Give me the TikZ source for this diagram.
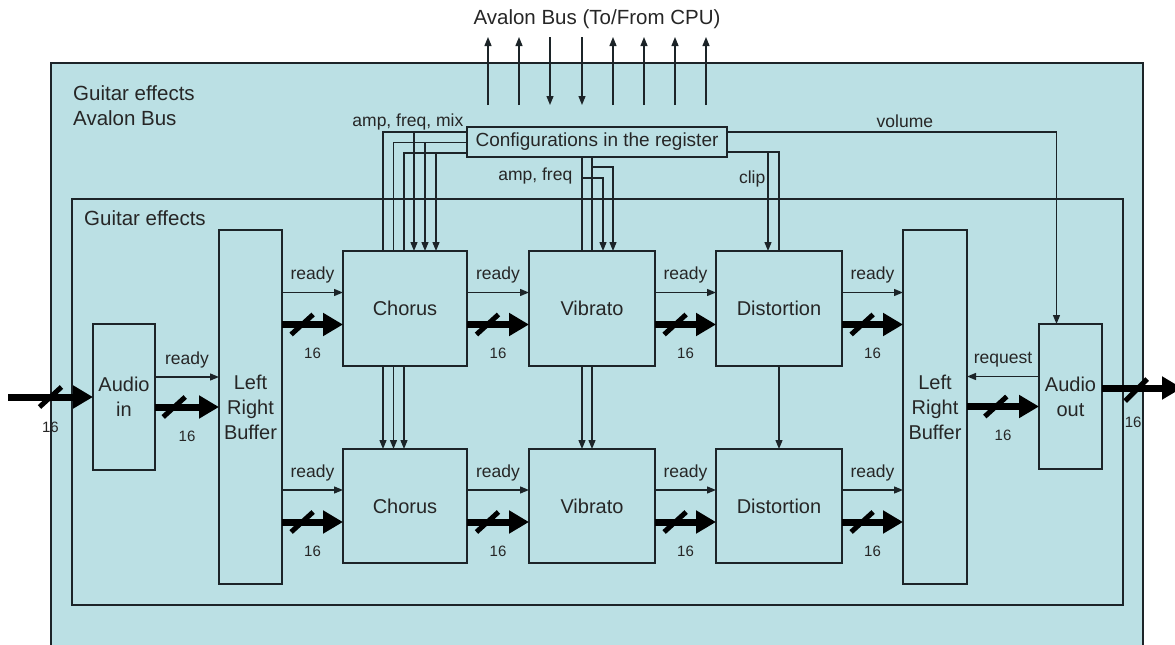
\documentclass[tikz,border=0pt]{standalone}
\usepackage{fontspec}
\setmainfont{Liberation Sans}
\usetikzlibrary{positioning, arrows.meta, calc}
\definecolor{bgc}{RGB}{187,224,228}
\definecolor{linec}{RGB}{28,36,40}
\definecolor{txtc}{RGB}{38,38,38}

\begin{document}
\begin{tikzpicture}[
                x=1pt, y=-1pt,
                panel/.style={draw=linec, fill=bgc, line width=1.5pt},
                block/.style={draw=linec, fill=bgc, line width=1.4pt, align=center, text=txtc, inner sep=0pt, outer sep=0pt, font={\fontsize{20pt}{25pt}\selectfont}},
                txt/.style={text=txtc, inner sep=0pt, font={\fontsize{20.5pt}{25pt}\selectfont}},
                lbl/.style={text=txtc, inner sep=1.5pt, font={\fontsize{17.5pt}{20pt}\selectfont}},
                num/.style={text=txtc, inner sep=1.5pt, font={\fontsize{15pt}{18pt}\selectfont}},
                wire/.style={draw=linec, line width=1.3pt},
                sig/.style={wire, -{Triangle[length=9pt, width=7pt]}},
                bus/.style={draw=black, line width=7pt, -{Triangle[length=20pt, width=22pt]}},
                slash/.style={draw=black, line width=5pt}
            ]

            \useasboundingbox (0,0) rectangle (1175,645);
            \clip (0,0) rectangle (1175,645);

            \node[panel, minimum width=1092pt, minimum height=597pt] (avalon) at (597,361.5) {};
            \node[panel, minimum width=1051pt, minimum height=406pt] (gfx) at (597.5,402) {};
            \node[txt, anchor=north west, align=left] (avalonlbl) at (73,85) {Guitar effects\\Avalon Bus};
            \node[txt, anchor=north west] (gfxlbl) at (84,210) {Guitar effects};
            \node[txt] (cpu) at (597,19) {Avalon Bus (To/From CPU)};

            \node[block, minimum width=62pt, minimum height=146pt] (audioin) at (124,397) {Audio\\in};
            \node[block, minimum width=63pt, minimum height=354pt] (lrbL) at (250.5,407) {Left\\Right\\Buffer};
            \node[block, minimum width=124pt, minimum height=115pt] (chorusA) at (405,308.5) {Chorus};
            \node[block, minimum width=126pt, minimum height=115pt, right=62pt of chorusA] (vibratoA) {Vibrato};
            \node[block, minimum width=126pt, minimum height=115pt, right=61pt of vibratoA] (distA) {Distortion};
            \node[block, minimum width=124pt, minimum height=114pt, below=83pt of chorusA] (chorusB) {Chorus};
            \node[block, minimum width=126pt, minimum height=114pt, below=83pt of vibratoA] (vibratoB) {Vibrato};
            \node[block, minimum width=126pt, minimum height=114pt, below=83pt of distA] (distB) {Distortion};
            \node[block, minimum width=64pt, minimum height=354pt] (lrbR) at (935,407) {Left\\Right\\Buffer};
            \node[block, minimum width=63pt, minimum height=145pt] (audioout) at (1070.5,396.5) {Audio\\out};
            \node[block, line width=1.2pt, minimum width=260pt, minimum height=30pt, font={\fontsize{19pt}{22pt}\selectfont}] (config) at (597,142) {Configurations in the register};

            % bus to and from the CPU
            \foreach \dx/\ya/\yb in {-109/-22/-90, -78/-22/-90, -47/-90/-22, -15/-90/-22, 16/-22/-90, 47/-22/-90, 78/-22/-90, 109/-22/-90}
                \draw[sig] ($(config.north)+(\dx,\ya)$) -- ($(config.north)+(\dx,\yb)$);

            % chorus settings
            \foreach \i in {0,1,2} {
                \coordinate (ch\i) at ($(config.west)+(0,-10+10.5*\i)$);
                \coordinate (cd\i) at ($(chorusA.north)+(-22+10.5*\i,0)$);
                \coordinate (ca\i) at ($(chorusA.north)+(9+11*\i,0)$);
                \draw[wire] (ch\i) -| (cd\i);
                \draw[sig] (ch\i -| ca\i) -- (ca\i);
                \draw[sig] (cd\i |- chorusA.south) -- (cd\i |- chorusB.north);
            }
            \node[lbl, anchor=base east] (mixlbl) at ($(ch0)+(-2,-6)$) {amp, freq, mix};

            % vibrato settings
            \coordinate (vd0) at ($(vibratoA.north)+(-10,0)$);
            \coordinate (vd1) at (vibratoA.north);
            \foreach \v in {vd0, vd1} {
                \draw[wire] (\v |- config.south) -- (\v);
                \draw[sig] (\v |- vibratoA.south) -- (\v |- vibratoB.north);
            }
            \draw[sig] ($(vd0 |- config.south)+(0,21)$) -| ($(vibratoA.north)+(11,0)$);
            \draw[sig] ($(vd1 |- config.south)+(0,10)$) -| ($(vibratoA.north)+(21,0)$);
            \node[lbl, anchor=base east] (freqlbl) at ($(vd0 |- config.south)+(-8,23)$) {amp, freq};

            % distortion settings
            \coordinate (dh) at ($(config.east)+(0,10)$);
            \coordinate (da) at ($(distA.north)+(-11,0)$);
            \draw[wire] (dh) -| (distA.north);
            \draw[sig] (dh -| da) -- (da);
            \draw[sig] (distA.south) -- (distB.north);
            \node[lbl, anchor=base east] (cliplbl) at ($(da |- config.east)+(-1,41)$) {clip};

            \draw[sig] ($(config.east)+(0,-10)$) -| node[lbl, pos=0.27, above=2pt] (vollbl) {volume} ($(audioout.north)+(-14,0)$);

            % audio path
            \foreach \a/\b/\r in {lrbL/chorusA/chorusA, chorusA/vibratoA/chorusA, vibratoA/distA/chorusA, distA/lrbR/chorusA, lrbL/chorusB/chorusB, chorusB/vibratoB/chorusB, vibratoB/distB/chorusB, distB/lrbR/chorusB} {
                \draw[sig] ([yshift=16pt]\r.west -| \a.east) -- node[lbl, above=7pt] (rdy\a\b) {ready} ([yshift=16pt]\r.west -| \b.west);
                \draw[bus] ([yshift=-16pt]\r.west -| \a.east) -- coordinate[pos=0.33] (sl) node[num, below=19pt] (n\a\b) {16} ([yshift=-16pt]\r.west -| \b.west);
                \draw[slash] ($(sl)+(-11,10)$) -- ($(sl)+(11,-10)$);
            }

            \coordinate (inL) at (8,397);
            \draw[bus] (inL) -- coordinate[pos=0.5] (sl) node[num, below=20pt] (nin) {16} (audioin.west);
            \draw[slash] ($(sl)+(-11,10)$) -- ($(sl)+(11,-10)$);
            \draw[sig] ([yshift=20pt]audioin.east) -- node[lbl, above=7pt] (rdyin) {ready} ([yshift=20pt]audioin.east -| lrbL.west);
            \draw[bus] ([yshift=-10pt]audioin.east) -- coordinate[pos=0.3] (sl) node[num, below=19pt] (ninbuf) {16} ([yshift=-10pt]audioin.east -| lrbL.west);
            \draw[slash] ($(sl)+(-11,10)$) -- ($(sl)+(11,-10)$);

            \draw[sig] ([yshift=20pt]audioout.west) -- node[lbl, above=7pt] (reqlbl) {request} ([yshift=20pt]audioout.west -| lrbR.east);
            \draw[bus] ([yshift=-10pt]audioout.west -| lrbR.east) -- coordinate[pos=0.4] (sl) node[num, below=19pt] (noutbuf) {16} ([yshift=-10pt]audioout.west);
            \draw[slash] ($(sl)+(-11,10)$) -- ($(sl)+(11,-10)$);

            \coordinate (outR) at (1182,388);
            \draw[bus] (audioout.east |- outR) -- coordinate[pos=0.44] (sl) (outR);
            \draw[slash] ($(sl)+(-12,13)$) -- ($(sl)+(10,-9)$);
            \node[num] (nout) at ($(sl)+(-4,34)$) {16};
        \end{tikzpicture}
\end{document}
